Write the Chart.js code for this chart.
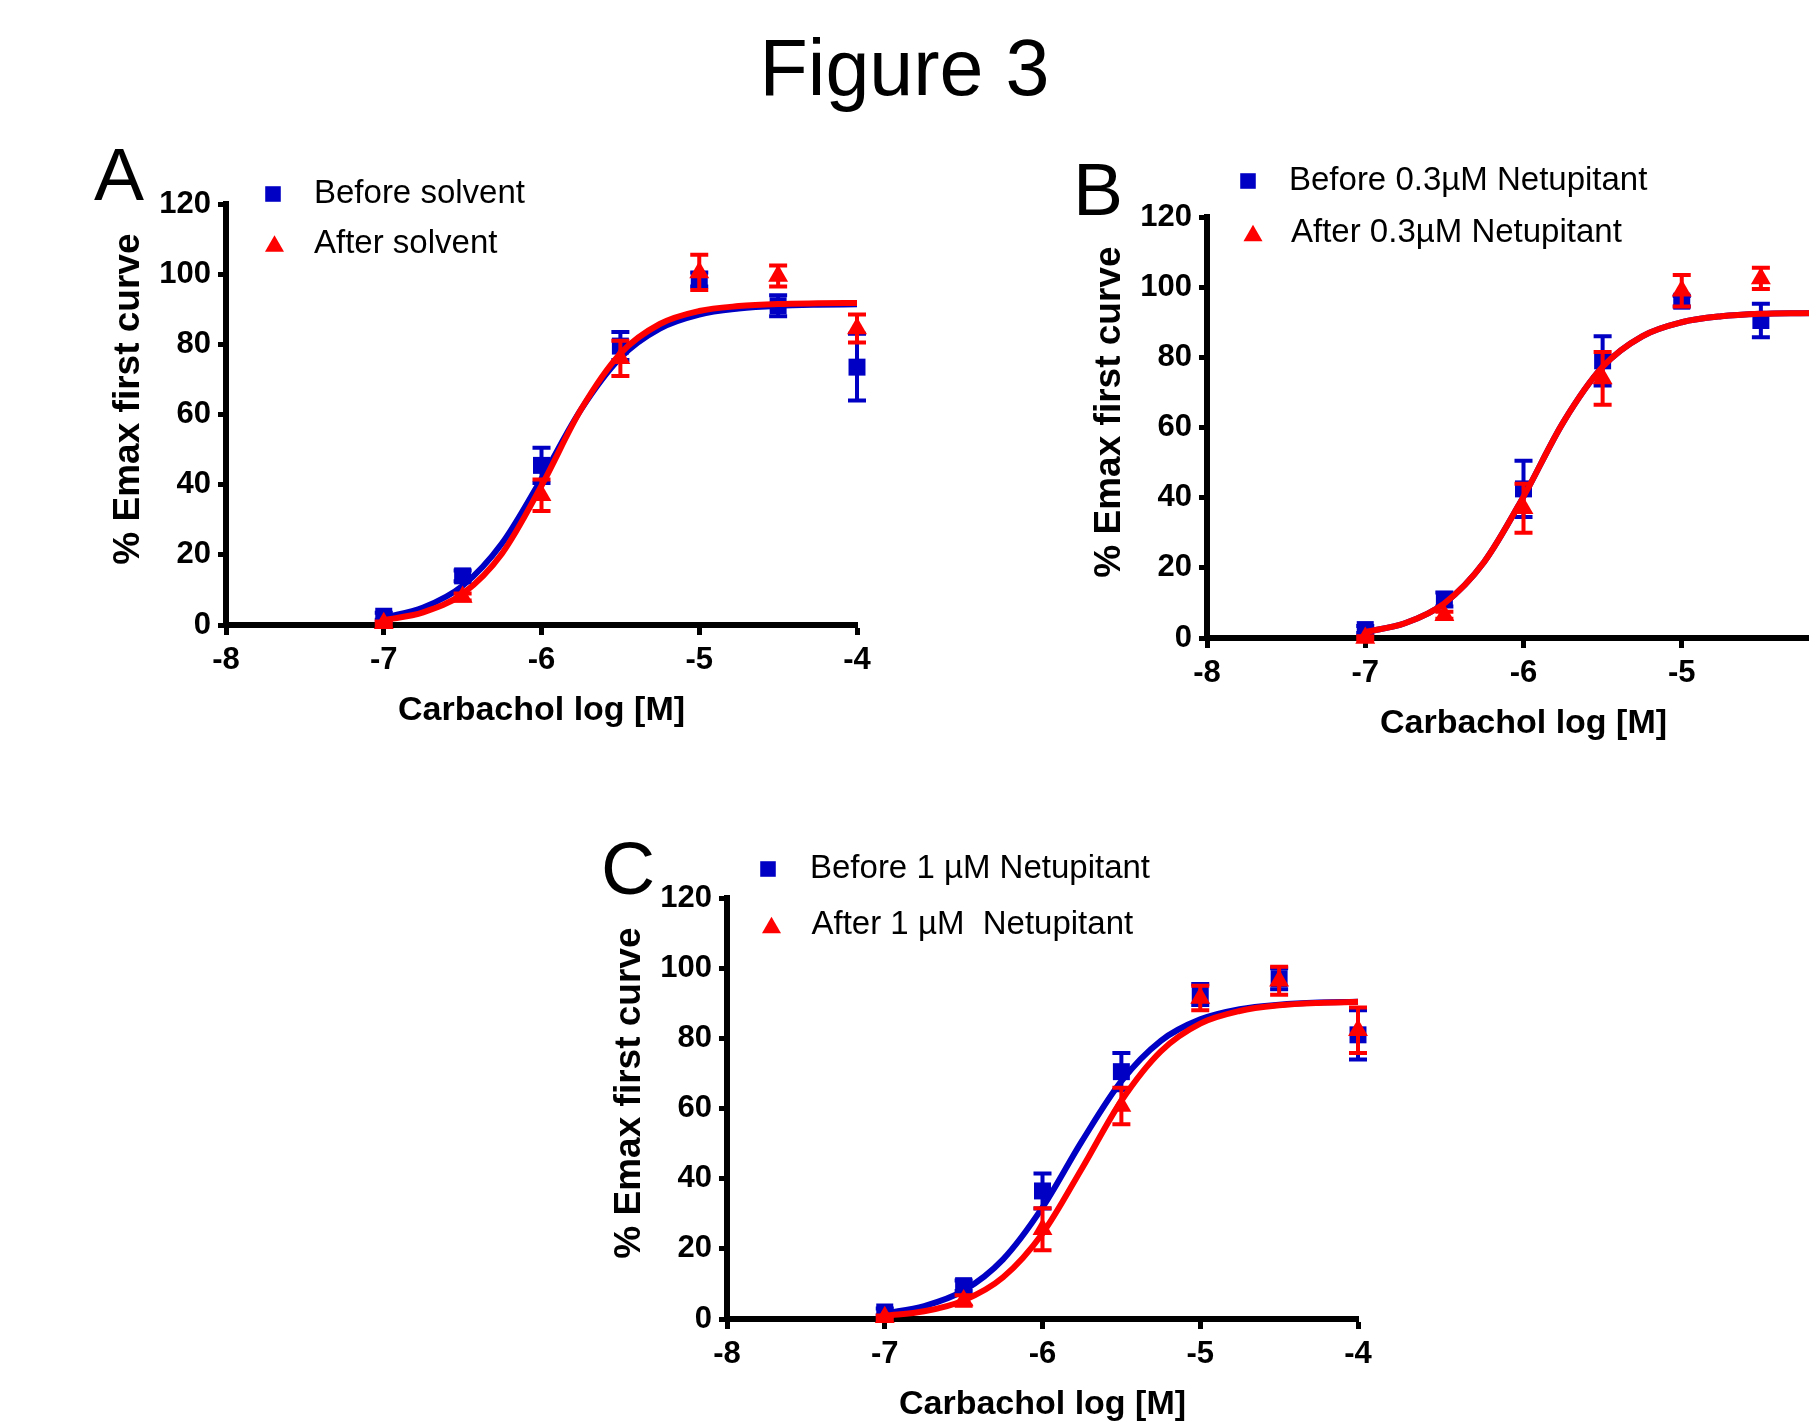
<!DOCTYPE html>
<html>
<head>
<meta charset="utf-8">
<title>Figure 3</title>
<script src="https://cdn.jsdelivr.net/npm/chart.js@4.4.1/dist/chart.umd.min.js"></script>
<style>
    html, body { margin: 0; padding: 0; background: #fff; overflow: hidden; }
    #page {
        position: relative;
        width: 1809px;
        height: 1422px;
        overflow: hidden;
        font-family: "Liberation Sans", Arial, sans-serif;
        color: #000;
    }
    #fig-title {
        position: absolute;
        left: 0; top: 28px; width: 1809px;
        text-align: center;
        font-size: 79px; line-height: 79px;
    }
    .panel-letter { position: absolute; font-size: 75px; line-height: 75px; }
    canvas { position: absolute; }
</style>
</head>
<body>
<div id="page">
    <div id="fig-title">Figure 3</div>
    <div class="panel-letter" style="left:94px; top:137px;">A</div>
    <div class="panel-letter" style="left:1073px; top:152px;">B</div>
    <div class="panel-letter" style="left:601px; top:831px;">C</div>
    <canvas id="chart-a" width="797" height="605" style="left:100px; top:130px; width:797px; height:605px;"></canvas>
    <canvas id="chart-b" width="799" height="605" style="left:1081px; top:143px; width:799px; height:605px;"></canvas>
    <canvas id="chart-c" width="797" height="605" style="left:601px; top:824px; width:797px; height:605px;"></canvas>
</div>

<script>
// Shared axes: carbachol log concentration and response scale.
const doses = [-7, -6.5, -6, -5.5, -5, -4.5, -4];
const fitDoses = [-7, -6.75, -6.5, -6.25, -6, -5.75, -5.5, -5.25, -5, -4.75, -4.5, -4.25, -4];
const xTicks = [-8, -7, -6, -5, -4];
const yTicks = [0, 20, 40, 60, 80, 100, 120];
const xTitle = 'Carbachol log [M]';
const yTitle = '\u00a0\u00a0\u00a0% Emax first curve';

// Panel A - solvent.
const aLabels = ['Before solvent', 'After solvent'];
const aBefore = [2.5, 14, 45.5, 79.5, 98.5, 91, 73.5];
const aBeforeSem = [1, 1.5, 5, 4, 2, 3, 9.5];
const aAfter = [0.5, 8, 37, 76, 100.5, 99.5, 84.5];
const aAfterSem = [0.5, 1, 4.5, 5, 5, 3, 4];
const aBeforeFit = [2.1, 5.0, 11.2, 23.3, 41.7, 61.4, 76.2, 84.5, 88.5, 90.2, 91.0, 91.3, 91.4];
const aAfterFit = [1.4, 3.6, 8.9, 20.4, 39.7, 61.4, 77.4, 85.8, 89.5, 90.9, 91.5, 91.7, 91.8];

// Panel B - 0.3 uM netupitant (the -4 column is cut off by the page edge).
const bLabels = ['Before 0.3µM Netupitant', 'After 0.3µM Netupitant'];
const bBefore = [2.4, 11, 42.5, 79, 96, 90.5, null];
const bBeforeSem = [1, 2, 8, 7, 1.5, 4.8, null];
const bAfter = [0, 6.5, 37, 74, 99, 102.5, null];
const bAfterSem = [0.5, 1, 7, 7.5, 4.5, 3, null];
const bBeforeFit = [1.7, 4.2, 9.9, 21.6, 40.3, 61.4, 77.3, 86.0, 90.0, 91.7, 92.4, 92.6, 92.7];
const bAfterFit = [1.7, 4.2, 9.9, 21.6, 40.3, 61.4, 77.3, 86.0, 90.0, 91.7, 92.4, 92.6, 92.7];

// Panel C - 1 uM netupitant.
const cLabels = ['Before 1 µM Netupitant', 'After 1 µM  Netupitant'];
const cBefore = [2, 9.5, 36.5, 70.5, 92.5, 97, 81];
const cBeforeSem = [1, 1.5, 5, 5.3, 3, 3, 7];
const cAfter = [0.5, 5.3, 25.6, 60.7, 91.5, 96.4, 82.3];
const cAfterSem = [0.5, 1.5, 6, 5.2, 3.5, 4, 6.5];
const cBeforeFit = [1.6, 3.7, 8.1, 17.0, 31.8, 50.7, 67.8, 79.3, 85.4, 88.3, 89.6, 90.2, 90.4];
const cAfterFit = [0.9, 2.2, 5.3, 11.9, 24.4, 42.9, 62.2, 76.3, 84.2, 87.8, 89.4, 90.1, 90.4];

const BLUE = '#0000C4';
const RED = '#FF0000';
const FONT = '"Liberation Sans", Arial, sans-serif';

Chart.defaults.font.family = FONT;
Chart.defaults.color = '#000';

function toPoints(xs, ys) {
    return xs.map((x, i) => ({ x: x, y: ys[i] }));
}

// Draws SEM bars for every dataset that carries an "errors" array.
const errorBarPlugin = {
    id: 'errorBars',
    afterDatasetDraw(chart, args) {
        const ds = chart.data.datasets[args.index];
        if (!ds.errors) return;
        const ctx = chart.ctx;
        const xScale = chart.scales.x;
        const yScale = chart.scales.y;
        const cap = 9;
        ctx.save();
        ctx.strokeStyle = ds.backgroundColor;
        ctx.lineWidth = 4;
        ds.data.forEach((p, i) => {
            const err = ds.errors[i];
            if (p.y == null || err == null) return;
            const px = xScale.getPixelForValue(p.x);
            const top = yScale.getPixelForValue(p.y + err);
            const bottom = yScale.getPixelForValue(p.y - err);
            ctx.beginPath();
            ctx.moveTo(px, top);
            ctx.lineTo(px, bottom);
            ctx.moveTo(px - cap, top);
            ctx.lineTo(px + cap, top);
            ctx.moveTo(px - cap, bottom);
            ctx.lineTo(px + cap, bottom);
            ctx.stroke();
        });
        ctx.restore();
    }
};

// Legend sitting in the top-left corner of the plot, like the original figure.
const insetLegendPlugin = {
    id: 'insetLegend',
    afterDraw(chart, args, opts) {
        const ctx = chart.ctx;
        const area = chart.chartArea;
        const items = chart.data.datasets.filter(ds => ds.errors);
        ctx.save();
        ctx.font = '33px ' + FONT;
        ctx.textBaseline = 'middle';
        items.forEach((ds, i) => {
            const rowY = area.top + opts.rows[i];
            const mx = area.left + opts.markerX[i];
            const r = 11;
            ctx.fillStyle = ds.backgroundColor;
            ctx.beginPath();
            if (ds.pointStyle === 'triangle') {
                const cy = rowY + r * 0.25;
                ctx.moveTo(mx, cy - r);
                ctx.lineTo(mx + r * 0.866, cy + r * 0.5);
                ctx.lineTo(mx - r * 0.866, cy + r * 0.5);
                ctx.closePath();
            } else {
                const half = r * Math.SQRT1_2;
                ctx.rect(mx - half, rowY - half, half * 2, half * 2);
            }
            ctx.fill();
            ctx.fillStyle = '#000';
            ctx.fillText(ds.label, area.left + opts.textX[i], rowY);
        });
        ctx.restore();
    }
};

function axisOptions(min, max, ticks, title, isX) {
    return {
        type: 'linear',
        min: min,
        max: max,
        afterBuildTicks: (scale) => { scale.ticks = ticks.map(v => ({ value: v })); },
        afterFit: (scale) => {
            if (isX) scale.height = 110; else scale.width = 126;
        },
        ticks: {
            color: '#000',
            padding: 7,
            font: { size: 31, weight: 'bold' }
        },
        grid: {
            display: true,
            drawOnChartArea: false,
            drawTicks: true,
            tickLength: isX ? 10 : 8,
            tickWidth: 5,
            tickColor: '#000'
        },
        border: { display: true, width: 6, color: '#000' },
        title: {
            display: true,
            text: title,
            color: '#000',
            font: { size: isX ? 34 : 37, weight: 'bold' },
            padding: isX ? { top: 0, bottom: 4 } : { top: 7, bottom: 0 }
        }
    };
}

function buildPanel(canvasId, labels, before, beforeSem, after, afterSem, beforeFit, afterFit, legendPos) {
    const canvas = document.getElementById(canvasId);
    return new Chart(canvas, {
        type: 'scatter',
        data: {
            datasets: [
                {
                    label: labels[0],
                    data: toPoints(doses, before),
                    errors: beforeSem,
                    pointStyle: 'rect',
                    pointRadius: 12,
                    pointBorderWidth: 0,
                    backgroundColor: BLUE,
                    borderColor: BLUE,
                    showLine: false,
                    clip: false,
                    order: 4
                },
                {
                    label: labels[1],
                    data: toPoints(doses, after),
                    errors: afterSem,
                    pointStyle: 'triangle',
                    pointRadius: 11.5,
                    pointBorderWidth: 0,
                    backgroundColor: RED,
                    borderColor: RED,
                    showLine: false,
                    clip: false,
                    order: 2
                },
                {
                    label: labels[0] + ' fit',
                    data: toPoints(fitDoses, beforeFit),
                    showLine: true,
                    pointRadius: 0,
                    borderColor: BLUE,
                    backgroundColor: BLUE,
                    borderWidth: 6,
                    cubicInterpolationMode: 'monotone',
                    clip: false,
                    order: 3
                },
                {
                    label: labels[1] + ' fit',
                    data: toPoints(fitDoses, afterFit),
                    showLine: true,
                    pointRadius: 0,
                    borderColor: RED,
                    backgroundColor: RED,
                    borderWidth: 6,
                    cubicInterpolationMode: 'monotone',
                    clip: false,
                    order: 1
                }
            ]
        },
        options: {
            responsive: false,
            animation: false,
            events: [],
            layout: { padding: { top: 74, right: 40, bottom: 0, left: 0 } },
            scales: {
                x: axisOptions(-8, -4, xTicks, xTitle, true),
                y: axisOptions(0, 120, yTicks, yTitle, false)
            },
            plugins: {
                legend: { display: false },
                tooltip: { enabled: false },
                insetLegend: legendPos
            }
        },
        plugins: [errorBarPlugin, insetLegendPlugin]
    });
}

buildPanel('chart-a', aLabels, aBefore, aBeforeSem, aAfter, aAfterSem, aBeforeFit, aAfterFit,
    { markerX: [47, 48.5], textX: [88, 88], rows: [-10, 39.5] });
buildPanel('chart-b', bLabels, bBefore, bBeforeSem, bAfter, bAfterSem, bBeforeFit, bAfterFit,
    { markerX: [41, 46], textX: [82, 84], rows: [-36, 16] });
buildPanel('chart-c', cLabels, cBefore, cBeforeSem, cAfter, cAfterSem, cBeforeFit, cAfterFit,
    { markerX: [41, 44.5], textX: [83, 84.5], rows: [-29, 27] });
</script>
</body>
</html>
